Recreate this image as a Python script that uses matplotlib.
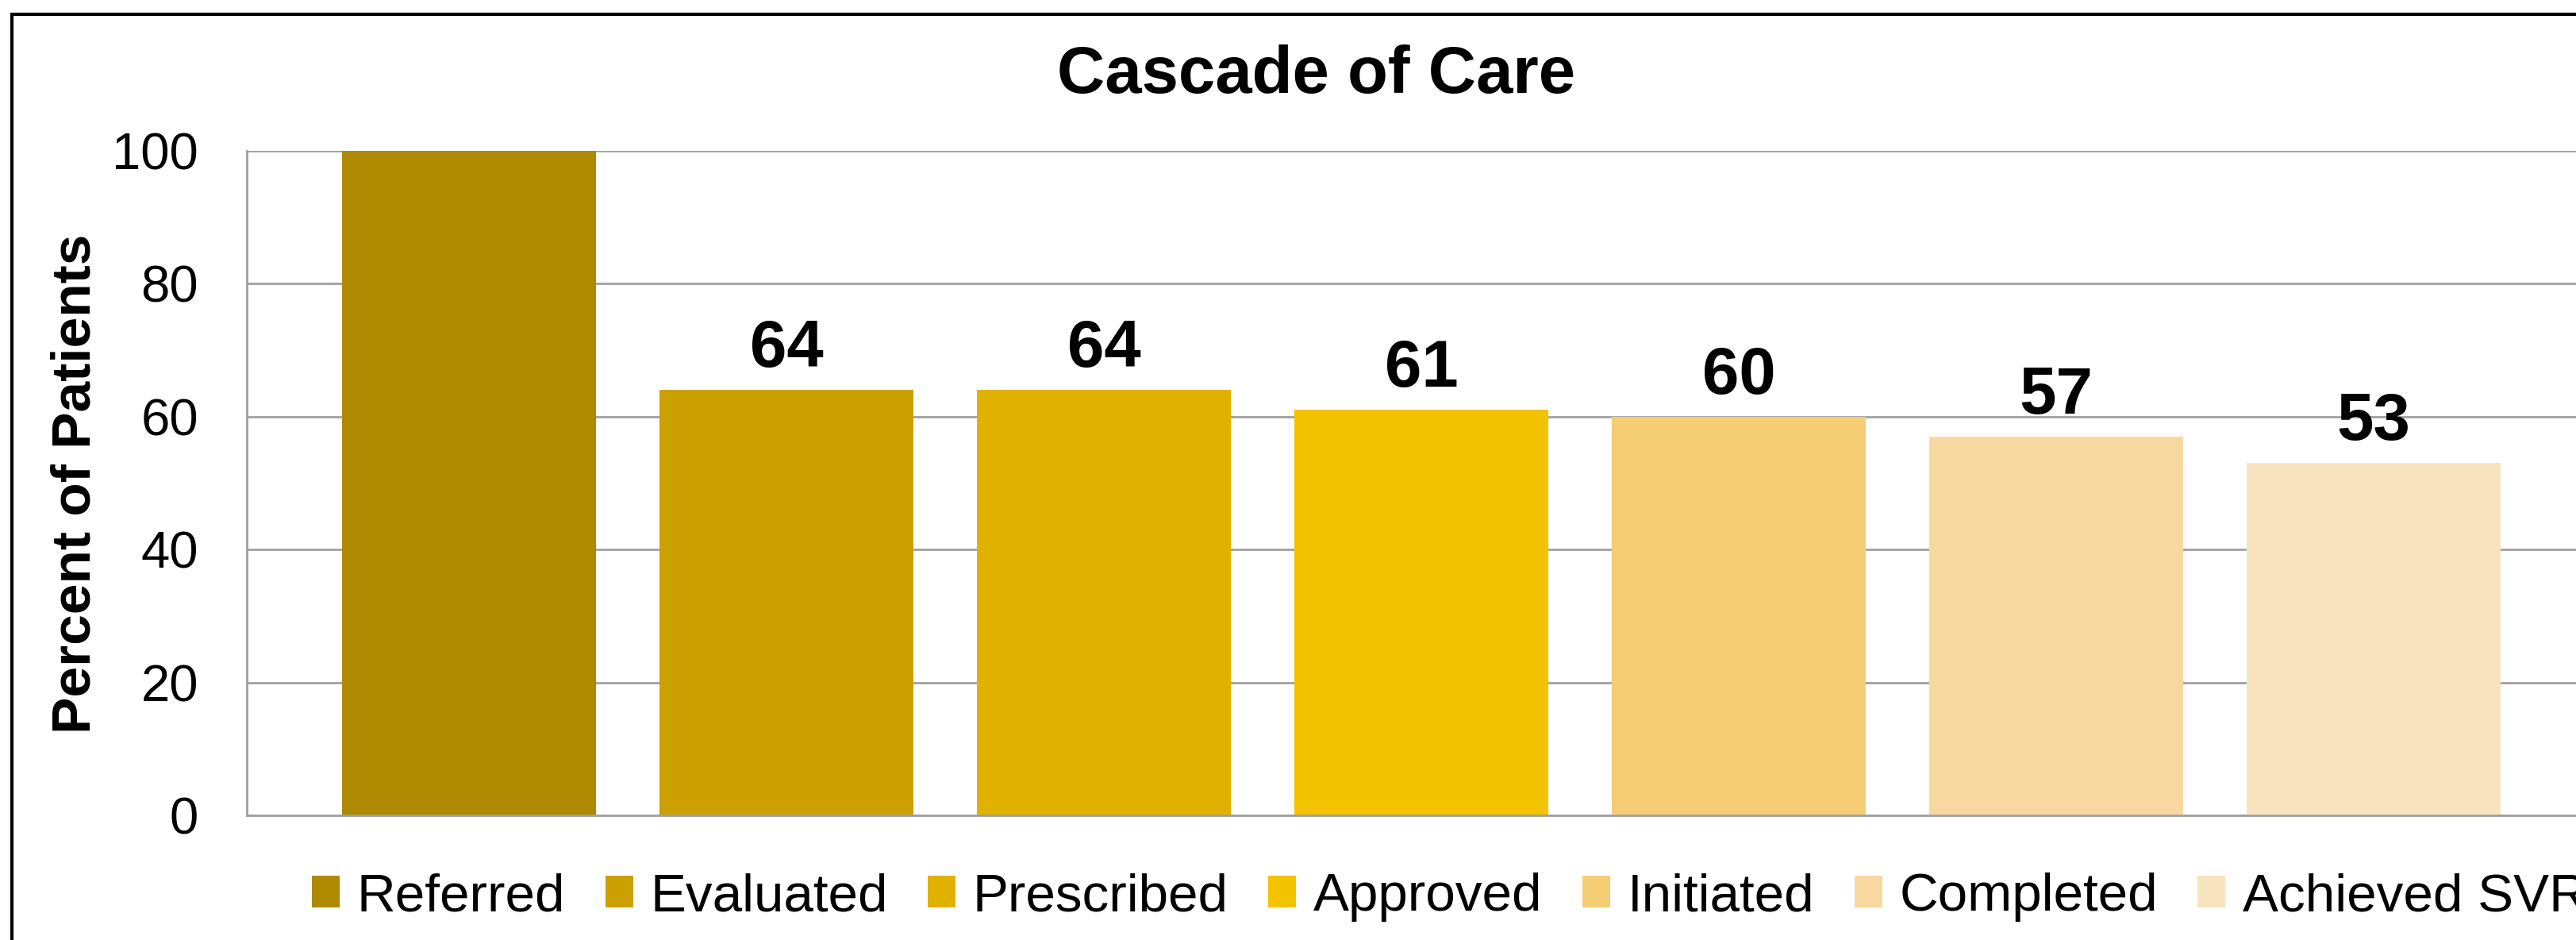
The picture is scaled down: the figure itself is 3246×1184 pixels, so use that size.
import matplotlib
matplotlib.use('Agg')
import matplotlib.pyplot as plt
from matplotlib.patches import Rectangle

plt.rcParams['font.family'] = ['Liberation Sans', 'DejaVu Sans']

# Dados do gráfico
etapas = ['Referred', 'Evaluated', 'Prescribed', 'Approved', 'Initiated', 'Completed', 'Achieved SVR']
percentuais = [100, 64, 64, 61, 60, 57, 53]
rotulos = ['', '64', '64', '61', '60', '57', '53']
cores = ['#AF8A00', '#CCA000', '#E1B100', '#F3C300', '#F5CD75', '#F7D9A0', '#F8E3BF']
yticks = [0, 20, 40, 60, 80, 100]

fig = plt.figure(figsize=(32.46, 11.84), dpi=100)
ax = fig.add_axes([0.0958, 0.1326, 0.912, 0.7069])

x = list(range(len(etapas)))
barras = ax.bar(x, percentuais, width=0.8, color=cores, zorder=2)

# Rótulos de valor acima das barras
for xi, v, r in zip(x, percentuais, rotulos):
    if r:
        ax.annotate(r, (xi, v), xytext=(0, 21), textcoords='offset points',
                    ha='center', va='baseline', fontsize=60, fontweight='bold')

ax.set_xlim(-0.7, 6.7)
ax.set_ylim(0, 100)
ax.set_yticks(yticks)
ax.set_xticks([])
ax.tick_params(axis='y', length=0, pad=44, labelsize=47)
ax.grid(axis='y', color='#A0A0A0', linewidth=2, zorder=0)
for lado in ['top', 'right']:
    ax.spines[lado].set_visible(False)
for lado in ['left', 'bottom']:
    ax.spines[lado].set_color('#A0A0A0')
    ax.spines[lado].set_linewidth(2)

fig.text(0.511, 0.9012, 'Cascade of Care', ha='center', va='baseline', fontsize=60, fontweight='bold')
fig.text(0.0293, 0.485, 'Percent of Patients', ha='center', va='center', rotation=90,
         fontsize=50, fontweight='bold')

ax.legend(barras, etapas, ncol=7, loc='center left', bbox_to_anchor=(393 / 3246, 0.0456),
          bbox_transform=fig.transFigure, frameon=False, fontsize=48.5,
          handlelength=0.52, handleheight=0.52, handletextpad=0.32, columnspacing=0.75,
          borderpad=0, borderaxespad=0)

# Moldura externa
fig.patches.append(Rectangle((15 / 3246, -0.1), 1.2, 1 - 18 / 1184 + 0.1,
                             transform=fig.transFigure, fill=False, edgecolor='black',
                             linewidth=3, zorder=10))

fig.savefig('out.png', dpi=100)
